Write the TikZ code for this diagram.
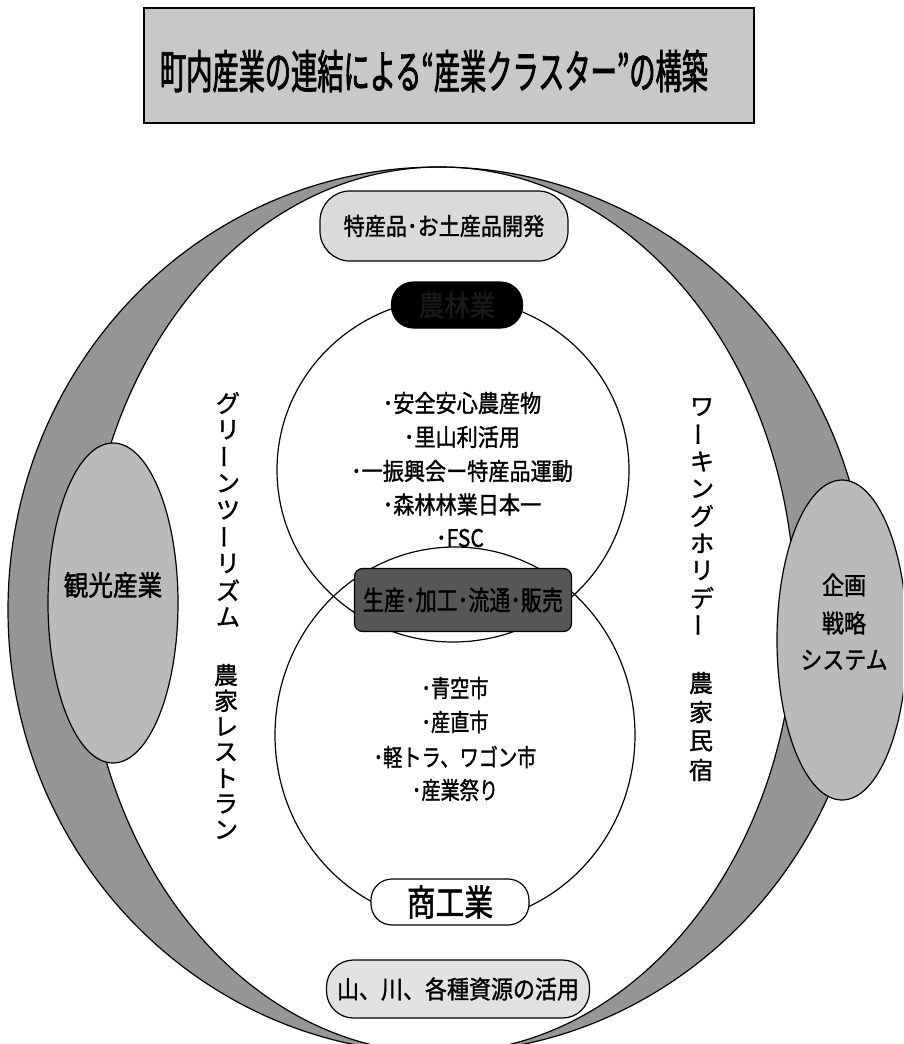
\documentclass[tikz,border=0pt]{standalone}
\usepackage{fontspec}
\usepackage{graphicx}
\usetikzlibrary{shapes.geometric}
\newfontfamily\jp[FakeBold=1.3]{Noto Sans CJK JP}
\newfontfamily\jpN[FakeStretch=0.88,FakeBold=1.3]{Noto Sans CJK JP}
\newfontfamily\jpM[FakeStretch=0.80,FakeBold=1.3]{Noto Sans CJK JP}
\newfontfamily\jpC[FakeStretch=0.78,FakeBold=1.3]{Noto Sans CJK JP}
\newfontfamily\jpT[FakeStretch=0.57,FakeBold=1.5]{Noto Sans CJK JP}
\newcommand\kvbar{\rotatebox[origin=c]{90}{ー}}
\definecolor{bandc}{RGB}{150,150,150}
\definecolor{sidec}{RGB}{186,186,186}
\definecolor{titlec}{RGB}{200,200,200}
\definecolor{lightc}{RGB}{218,218,218}
\definecolor{light2}{RGB}{226,226,226}
\definecolor{seisanc}{RGB}{86,86,86}
\definecolor{nrtext}{RGB}{26,26,26}
\tikzset{
  pill/.style={draw, line width=1.2pt, inner sep=0pt},
  txt/.style={inner sep=0pt, outer sep=0pt},
  vtxt/.style={txt, font=\jp\fontsize{24}{26}\selectfont},
  line/.style={line width=1.2pt},
}
\begin{document}
\begin{tikzpicture}[x=1pt,y=-1pt]
\useasboundingbox (0,0) rectangle (903,1044);
\clip (0,0) rectangle (903,1044);
\fill[white] (0,0) rectangle (903,1044);

% title
\node[draw, line width=1.4pt, fill=titlec, minimum width=610, minimum height=115, inner sep=0pt] (titlebox) at (449,65.5) {};
\node[txt, font=\jpT\fontsize{46}{50}\selectfont] (title) at (434,71) {町内産業の連結による“産業クラスター”の構築};

% grey band
\fill[bandc, even odd rule] (438,610) ellipse [x radius=430, y radius=443] (440,610) ellipse [x radius=355, y radius=443];
\draw[line] (438,610) ellipse [x radius=430, y radius=443];
\draw[line] (440,610) ellipse [x radius=355, y radius=443];

% side ellipses
\node[ellipse, draw, line width=1.2pt, fill=sidec, minimum width=130, minimum height=320, inner sep=0pt] (kanko) at (113,603) {};
\node[txt, font=\jpN\fontsize{28}{30}\selectfont] (kankoT) at (113,585) {観光産業};
\node[ellipse, draw, line width=1.2pt, fill=sidec, minimum width=130, minimum height=320, inner sep=0pt] (kikaku) at (842,640) {};
\node[txt, font=\jpN\fontsize{25}{28}\selectfont] (kik1) at (844,585) {企画};
\node[txt, font=\jpN\fontsize{25}{28}\selectfont] (kik2) at (844,623) {戦略};
\node[txt, font=\jpN\fontsize{25}{28}\selectfont] (kik3) at (844,660) {システム};

% two circles
\draw[line] (453,470) ellipse [x radius=176, y radius=172];
\draw[line] (455,735) ellipse [x radius=180, y radius=188];

% nodes
\node[pill, fill=lightc, minimum width=248, minimum height=70, rounded corners=30pt, font=\jpN\fontsize{24}{26}\selectfont] (tokusan) at (444,226) {特産品･お土産品開発};
\node[pill, fill=black, text=nrtext, minimum width=131, minimum height=46, rounded corners=22pt, font=\jpN\fontsize{29}{30}\selectfont] (nourin) at (457,305) {農林業};
\node[draw, line width=1.2pt, fill=seisanc, minimum width=217, minimum height=63, rounded corners=8pt, inner sep=0pt, font=\jpC\fontsize{27}{30}\selectfont] (seisan) at (463,600) {生産･加工･流通･販売};
\node[pill, fill=white, minimum width=158, minimum height=46, rounded corners=21pt, font=\jpM\fontsize{36}{40}\selectfont] (shoko) at (450,902) {商工業};
\node[pill, fill=light2, minimum width=263, minimum height=58, rounded corners=27pt, font=\jpN\fontsize{25}{28}\selectfont] (yama) at (458,989) {山、川、各種資源の活用};

% text in top circle
\node[txt, font=\jpN\fontsize{24}{26}\selectfont] (t1) at (462,403) {･安全安心農産物};
\node[txt, font=\jpN\fontsize{24}{26}\selectfont] (t2) at (462,437) {･里山利活用};
\node[txt, font=\jpN\fontsize{24}{26}\selectfont] (t3) at (462,471) {･一振興会ー特産品運動};
\node[txt, font=\jpN\fontsize{24}{26}\selectfont] (t4) at (462,504.5) {･森林林業日本一};
\node[txt, font=\jpN\fontsize{24}{26}\selectfont] (t5) at (460,538) {･FSC};

% text in bottom circle
\node[txt, font=\jpM\fontsize{24}{26}\selectfont] (b1) at (455,688) {･青空市};
\node[txt, font=\jpM\fontsize{24}{26}\selectfont] (b2) at (455,722) {･産直市};
\node[txt, font=\jpM\fontsize{24}{26}\selectfont] (b3) at (455,757) {･軽トラ、ワゴン市};
\node[txt, font=\jpM\fontsize{24}{26}\selectfont] (b4) at (455,790) {･産業祭り};

% vertical texts
\foreach \c [count=\i from 0] in {グ,リ,\kvbar,ン,ツ,\kvbar,リ,ズ,ム}
  \node[vtxt] (gt\i) at (228,{403+26.75*\i}) {\c};
\foreach \c [count=\i from 0] in {農,家,レ,ス,ト,ラ,ン}
  \node[vtxt] (nr\i) at (226,{675+25.8*\i}) {\c};
\foreach \c [count=\i from 0] in {ワ,\kvbar,キ,ン,グ,ホ,リ,デ,\kvbar}
  \node[vtxt] (wh\i) at (702,{407+27.25*\i}) {\c};
\foreach \c [count=\i from 0] in {農,家,民,宿}
  \node[vtxt] (nm\i) at (701,{683+29*\i}) {\c};
\end{tikzpicture}
\end{document}
